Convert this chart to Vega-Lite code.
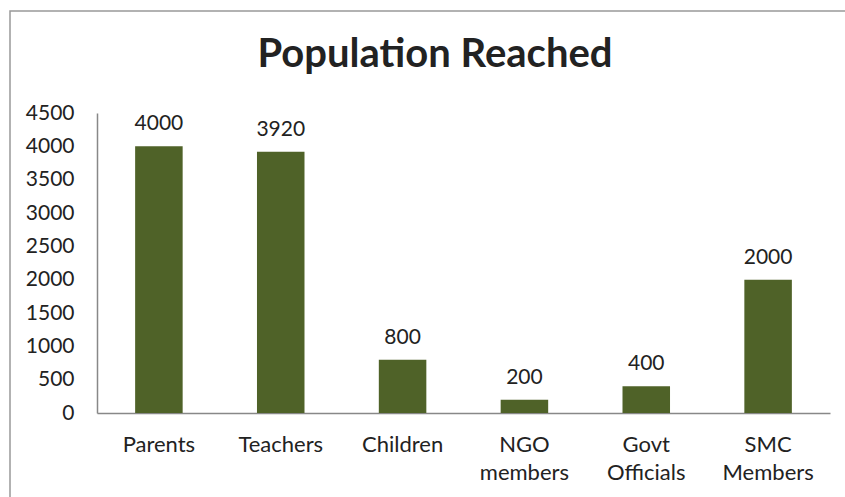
{
  "$schema": "https://vega.github.io/schema/vega-lite/v6.json",
  "autosize": {"type": "none"},
  "padding": {"left": 10, "top": 11, "right": 0, "bottom": 0},
  "width": 850,
  "height": 500,
  "background": "white",
  "title": {
    "text": "Population Reached",
    "font": "Lato",
    "fontSize": 40,
    "fontWeight": "bold",
    "color": "#222222",
    "anchor": "middle",
    "baseline": "top",
    "offset": -64
  },
  "data": {
    "values": [
      {"group": "Parents", "value": 4000},
      {"group": "Teachers", "value": 3920},
      {"group": "Children", "value": 800},
      {"group": "NGO members", "value": 200},
      {"group": "Govt Officials", "value": 400},
      {"group": "SMC Members", "value": 2000}
    ]
  },
  "encoding": {
    "x": {
      "field": "group",
      "type": "nominal",
      "sort": null,
      "scale": {"range": [87, 820], "paddingInner": 0.61, "paddingOuter": 0.313},
      "axis": {
        "title": null,
        "labelAngle": 0,
        "labelExpr": "split(datum.label, ' ')",
        "labelFont": "Lato",
        "labelFontSize": 22,
        "labelColor": "#222222",
        "labelLineHeight": 28,
        "labelPadding": 21,
        "ticks": false,
        "domainColor": "#888888",
        "domainWidth": 1.5,
        "offset": -98
      }
    },
    "y": {
      "field": "value",
      "type": "quantitative",
      "scale": {"domain": [0, 4500], "range": [402, 102], "nice": false},
      "axis": {
        "title": null,
        "values": [0, 500, 1000, 1500, 2000, 2500, 3000, 3500, 4000, 4500],
        "format": "d",
        "grid": false,
        "ticks": false,
        "labelFont": "Lato",
        "labelFontSize": 21,
        "labelColor": "#222222",
        "labelPadding": 23,
        "domainColor": "#888888",
        "domainWidth": 1.5,
        "offset": -87
      }
    }
  },
  "layer": [
    {"mark": {"type": "bar", "color": "#4F6228"}},
    {
      "mark": {"type": "text", "baseline": "bottom", "dy": -12, "font": "Lato", "fontSize": 21, "color": "#222222"},
      "encoding": {"text": {"field": "value", "type": "quantitative", "format": "d"}}
    }
  ],
  "config": {
    "view": {"stroke": "#999999", "strokeWidth": 1.5}
  }
}
